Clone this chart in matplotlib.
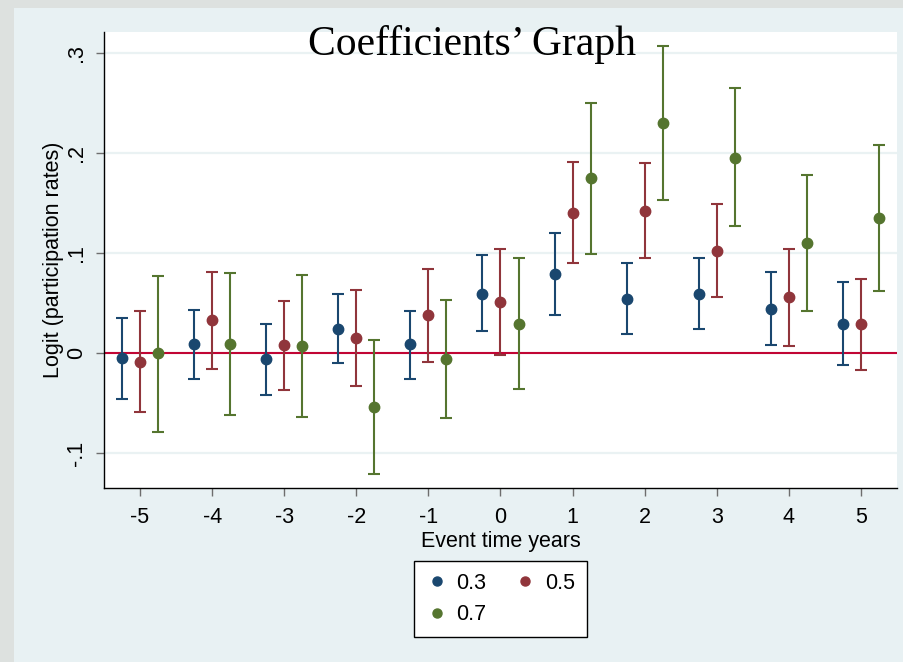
import matplotlib
matplotlib.use("Agg")
import matplotlib.pyplot as plt
from matplotlib.lines import Line2D
from matplotlib.patches import Rectangle
import numpy as np

plt.rcParams['font.family'] = ['Liberation Sans', 'DejaVu Sans']

events = [-5, -4, -3, -2, -1, 0, 1, 2, 3, 4, 5]

b03 = [-0.005, 0.009, -0.006, 0.024, 0.009, 0.059, 0.079, 0.054, 0.059, 0.044, 0.029]
lo03 = [-0.046, -0.026, -0.042, -0.010, -0.026, 0.022, 0.038, 0.019, 0.024, 0.008, -0.012]
hi03 = [0.035, 0.043, 0.029, 0.059, 0.042, 0.098, 0.120, 0.090, 0.095, 0.081, 0.071]

b05 = [-0.009, 0.033, 0.008, 0.015, 0.038, 0.051, 0.140, 0.142, 0.102, 0.056, 0.029]
lo05 = [-0.059, -0.016, -0.037, -0.033, -0.009, -0.002, 0.090, 0.095, 0.056, 0.007, -0.017]
hi05 = [0.042, 0.081, 0.052, 0.063, 0.084, 0.104, 0.191, 0.190, 0.149, 0.104, 0.074]

b07 = [0.000, 0.009, 0.007, -0.054, -0.006, 0.029, 0.175, 0.230, 0.195, 0.110, 0.135]
lo07 = [-0.079, -0.062, -0.064, -0.121, -0.065, -0.036, 0.099, 0.153, 0.127, 0.042, 0.062]
hi07 = [0.077, 0.080, 0.078, 0.013, 0.053, 0.095, 0.250, 0.307, 0.265, 0.178, 0.208]

series_labels = ["0.3", "0.5", "0.7"]
colors = ["#1A476F", "#90353B", "#55752F"]
yticks = [-0.1, 0, 0.1, 0.2, 0.3]
yticklabels = ["-.1", "0", ".1", ".2", ".3"]

title = "Coefficients\u2019 Graph"
xlabel = "Event time years"
ylabel = "Logit (participation rates)"

W, H = 904, 662
fig = plt.figure(figsize=(W / 100, H / 100), dpi=100)
fig.patch.set_facecolor("#E8F1F3")
fig.patches.append(Rectangle((0, 0), 14 / W, 1, transform=fig.transFigure,
                             facecolor="#DDE1DF", edgecolor="none", zorder=-10))
fig.patches.append(Rectangle((0, 1 - 8 / H), 1, 8 / H, transform=fig.transFigure,
                             facecolor="#DDE1DF", edgecolor="none", zorder=-10))

ax = fig.add_axes([104 / W, 1 - 488 / H, (897 - 104) / W, (488 - 32) / H])
ax.set_facecolor("white")

ax.set_xlim(-5.5, 5.5)
ax.set_ylim(-0.135, 0.321)

for yv in yticks:
    ax.axhline(yv, color="#EAF2F3", lw=1.6, zorder=0)
ax.axhline(0, color="#C10534", lw=1.5, zorder=1)

offsets = [-0.25, 0.0, 0.25]
data = [(b03, lo03, hi03), (b05, lo05, hi05), (b07, lo07, hi07)]
ev = np.array(events, dtype=float)
for (b, lo, hi), off, col in zip(data, offsets, colors):
    b = np.array(b); lo = np.array(lo); hi = np.array(hi)
    ax.errorbar(ev + off, b, yerr=[b - lo, hi - b], fmt="none", ecolor=col,
                elinewidth=1.5, capsize=4.3, capthick=1.5, zorder=2)
    ax.plot(ev + off, b, "o", color=col, markersize=7.5, zorder=3)

ax.spines["top"].set_visible(False)
ax.spines["right"].set_visible(False)
ax.spines["left"].set_linewidth(1.0)
ax.spines["bottom"].set_linewidth(1.0)

ax.set_xticks(events)
ax.set_xticklabels([str(e) for e in events])
ax.set_yticks(yticks)
ax.set_yticklabels(yticklabels, rotation=90, va="center")
ax.tick_params(axis="both", length=6, width=1, color="#6E6E6E", labelsize=15.5)
ax.tick_params(axis="x", pad=7.5)
ax.tick_params(axis="y", pad=6)

ax.set_xlabel(xlabel, fontsize=15.5, labelpad=2.5)
ax.set_ylabel(ylabel, fontsize=15.5, labelpad=2)

fig.text(472 / W, 1 - 55 / H, title, ha="center", va="baseline",
         fontsize=30, family=["Liberation Serif", "DejaVu Serif"], zorder=5)

handles = [Line2D([], [], marker="o", linestyle="none", color=c, markersize=6.5) for c in colors]
order = [0, 2, 1]
leg = fig.legend([handles[i] for i in order], [series_labels[i] for i in order],
                 ncol=2, loc="center", bbox_to_anchor=(500.5 / W, 1 - 599 / H),
                 fontsize=15.5, frameon=True, fancybox=False, edgecolor="black",
                 facecolor="white", framealpha=1, handletextpad=0.4,
                 columnspacing=1.3, labelspacing=0.5, borderpad=0.55, handlelength=1.0)
leg.get_frame().set_linewidth(1.0)

fig.savefig("out.png", dpi=100, facecolor=fig.get_facecolor())
